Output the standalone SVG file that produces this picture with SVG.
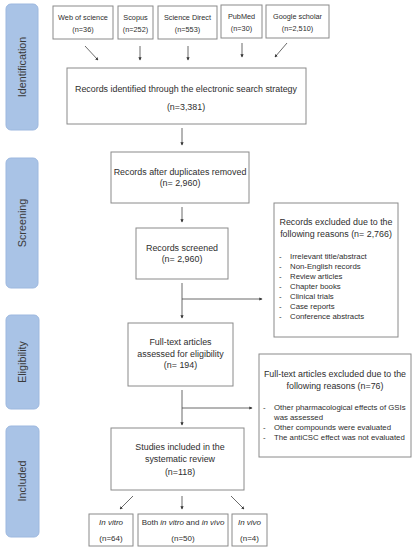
<svg xmlns="http://www.w3.org/2000/svg" width="416" height="550" viewBox="0 0 416 550">
<defs>
<marker id="ah" viewBox="0 0 6 6" refX="5" refY="3" markerWidth="4" markerHeight="4" orient="auto">
<path d="M0,0 L6,3 L0,6 z" fill="#333"/>
</marker>
<style>
.bar{fill:#a9c3e6;stroke:#9db8df;stroke-width:1}
.bt{font-family:"Liberation Sans",Arial,sans-serif;font-size:10.8px;fill:#3a3a3a;text-anchor:middle}
.box{fill:#fff;stroke:#8a8a8a;stroke-width:1}
.t{font-family:"Liberation Sans",Arial,sans-serif;font-size:8.9px;fill:#2e2e2e;text-anchor:middle}
.ts{font-family:"Liberation Sans",Arial,sans-serif;font-size:7.3px;fill:#2e2e2e;text-anchor:middle}
.tb{font-family:"Liberation Sans",Arial,sans-serif;font-size:8px;fill:#2e2e2e;text-anchor:middle}
.tl{font-family:"Liberation Sans",Arial,sans-serif;font-size:7.8px;fill:#2e2e2e}
.a{stroke:#444;stroke-width:0.8;fill:none;marker-end:url(#ah)}
</style>
</defs>
<rect width="416" height="550" fill="#fff"/>
<g id="bar-identification"><rect class="bar" x="6" y="4" width="32" height="126" rx="5"/><text class="bt" transform="translate(25.5,67) rotate(-90)">Identification</text></g>
<g id="bar-screening"><rect class="bar" x="6" y="158" width="32" height="130" rx="5"/><text class="bt" transform="translate(25.5,223) rotate(-90)">Screening</text></g>
<g id="bar-eligibility"><rect class="bar" x="6" y="315" width="33" height="94" rx="5"/><text class="bt" transform="translate(25.5,362) rotate(-90)">Eligibility</text></g>
<g id="bar-included"><rect class="bar" x="6" y="426" width="33" height="111" rx="5"/><text class="bt" transform="translate(25.5,481) rotate(-90)">Included</text></g>

<g id="wos"><rect class="box" x="53" y="6" width="60" height="33"/><text class="ts" x="83" y="20">Web of science</text><text class="ts" x="83" y="32">(n=36)</text></g>
<g id="scopus"><rect class="box" x="118" y="6" width="35" height="33"/><text class="ts" x="135.5" y="20">Scopus</text><text class="ts" x="135.5" y="32">(n=252)</text></g>
<g id="sd"><rect class="box" x="158" y="6" width="59" height="33"/><text class="ts" x="187.5" y="20">Science Direct</text><text class="ts" x="187.5" y="32">(n=553)</text></g>
<g id="pubmed"><rect class="box" x="221" y="5" width="41" height="33"/><text class="ts" x="241.5" y="19">PubMed</text><text class="ts" x="241.5" y="31">(n=30)</text></g>
<g id="gs"><rect class="box" x="266" y="5" width="63" height="33"/><text class="ts" x="297.5" y="19">Google scholar</text><text class="ts" x="297.5" y="31">(n=2,510)</text></g>

<g id="identified"><rect class="box" x="67" y="68" width="239" height="56"/><text class="t" x="186" y="92">Records identified through the electronic search strategy</text><text class="t" x="186" y="110">(n=3,381)</text></g>
<g id="dup"><rect class="box" x="111" y="152" width="138" height="51"/><text class="t" x="180" y="175">Records after duplicates removed</text><text class="t" x="180" y="186">(n= 2,960)</text></g>
<g id="screened"><rect class="box" x="136" y="228" width="92" height="51"/><text class="t" x="182" y="251">Records screened</text><text class="t" x="182" y="262">(n= 2,960)</text></g>
<g id="excl1"><rect class="box" x="274" y="203" width="124" height="134"/>
<text class="t" x="336" y="225">Records excluded due to the</text><text class="t" x="336" y="237">following reasons (n= 2,766)</text>
<g class="tl"><text x="279" y="259">-</text><text x="290" y="259">Irrelevant title/abstract</text>
<text x="279" y="269">-</text><text x="290" y="269">Non-English records</text>
<text x="279" y="279">-</text><text x="290" y="279">Review articles</text>
<text x="279" y="289">-</text><text x="290" y="289">Chapter books</text>
<text x="279" y="299">-</text><text x="290" y="299">Clinical trials</text>
<text x="279" y="309">-</text><text x="290" y="309">Case reports</text>
<text x="279" y="319">-</text><text x="290" y="319">Conference abstracts</text></g></g>
<g id="fulltext"><rect class="box" x="128" y="323" width="105" height="63"/><text class="t" x="180.5" y="345">Full-text articles</text><text class="t" x="180.5" y="357">assessed for eligibility</text><text class="t" x="180.5" y="368">(n= 194)</text></g>
<g id="excl2"><rect class="box" x="259" y="354" width="152" height="103"/>
<text class="t" x="335" y="377">Full-text articles excluded due to the</text><text class="t" x="335" y="389">following reasons (n=76)</text>
<g class="tl"><text x="263" y="410">-</text><text x="274" y="410">Other pharmacological effects of GSIs</text>
<text x="274" y="420">was assessed</text>
<text x="263" y="430">-</text><text x="274" y="430">Other compounds were evaluated</text>
<text x="263" y="440">-</text><text x="274" y="440">The antiCSC effect was not evaluated</text></g></g>
<g id="included"><rect class="box" x="111" y="428" width="133" height="62"/><text class="t" x="180" y="450">Studies included in the</text><text class="t" x="180" y="462">systematic review</text><text class="t" x="180" y="475">(n=118)</text></g>
<g id="invitro"><rect class="box" x="89" y="514" width="44" height="32"/><text class="tb" x="111" y="525" font-style="italic">In vitro</text><text class="tb" x="111" y="541">(n=64)</text></g>
<g id="both"><rect class="box" x="138" y="514" width="90" height="32"/><text class="tb" x="183" y="525">Both <tspan font-style="italic">in vitro</tspan> and <tspan font-style="italic">in vivo</tspan></text><text class="tb" x="183" y="541">(n=50)</text></g>
<g id="invivo"><rect class="box" x="232" y="514" width="35" height="32"/><text class="tb" x="249.5" y="525" font-style="italic">In vivo</text><text class="tb" x="249.5" y="541">(n=4)</text></g>

<g id="connectors">
<line class="a" x1="85" y1="46" x2="98" y2="60"/>
<line class="a" x1="140" y1="46" x2="140" y2="60"/>
<line class="a" x1="188" y1="46" x2="188" y2="60"/>
<line class="a" x1="242" y1="43" x2="242" y2="57"/>
<line class="a" x1="287" y1="43" x2="275" y2="57"/>
<line class="a" x1="182" y1="128" x2="182" y2="145"/>
<line class="a" x1="182" y1="207" x2="182" y2="222"/>
<line class="a" x1="182" y1="283" x2="182" y2="318"/>
<line class="a" x1="182" y1="299" x2="262" y2="299"/>
<line class="a" x1="182" y1="390" x2="182" y2="425"/>
<line class="a" x1="182" y1="408" x2="252" y2="408"/>
<line class="a" x1="133" y1="496" x2="120" y2="509"/>
<line class="a" x1="182" y1="496" x2="182" y2="509"/>
<line class="a" x1="231" y1="496" x2="244" y2="509"/>
</g>
</svg>
